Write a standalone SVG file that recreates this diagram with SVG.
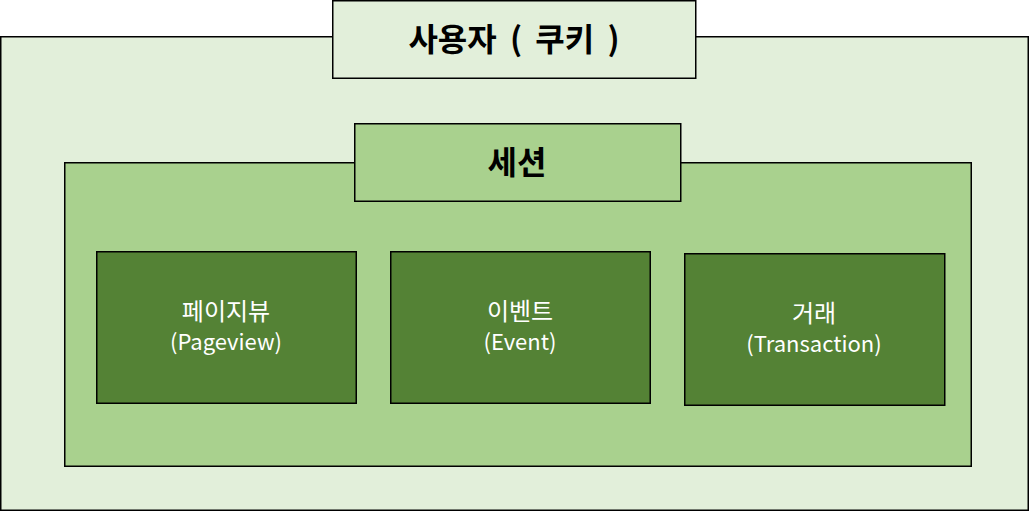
<svg xmlns="http://www.w3.org/2000/svg" width="1029" height="511" viewBox="0 0 1029 511">
<style>
rect{stroke:#000;stroke-width:1.5}
.l1{fill:#e2efda}
.l2{fill:#a9d18e}
.l3{fill:#548235}
.t{font-family:"Noto Sans CJK KR","Noto Sans",sans-serif;text-anchor:middle}
.h{font-size:32px;font-weight:bold;fill:#000}
.w{font-size:22px;fill:#fff}
.k{font-size:24px}
</style>
<g id="user">
<rect class="l1" x="0.75" y="36.75" width="1027.5" height="473.5"/>
<rect class="l1" x="332.75" y="0.75" width="363" height="77.5"/>
<text class="t h" x="514" y="51" word-spacing="6">사용자 ( 쿠키 )</text>
</g>
<g id="session">
<rect class="l2" x="64.75" y="162.75" width="906.5" height="303.5"/>
<rect class="l2" x="354.75" y="123.75" width="326" height="77.5"/>
<text class="t h" x="517" y="174">세션</text>
</g>
<g id="pageview">
<rect class="l3" x="96.75" y="251.75" width="259.5" height="151.5"/>
<text class="t w k" x="226" y="320">페이지뷰</text>
<text class="t w" x="226" y="350">(Pageview)</text>
</g>
<g id="event">
<rect class="l3" x="390.75" y="251.75" width="259.5" height="151.5"/>
<text class="t w k" x="520" y="320">이벤트</text>
<text class="t w" x="520" y="350">(Event)</text>
</g>
<g id="transaction">
<rect class="l3" x="684.75" y="253.75" width="260" height="151.5"/>
<text class="t w k" x="814" y="322">거래</text>
<text class="t w" x="814" y="352">(Transaction)</text>
</g>
<g id="connectors"/>
</svg>
